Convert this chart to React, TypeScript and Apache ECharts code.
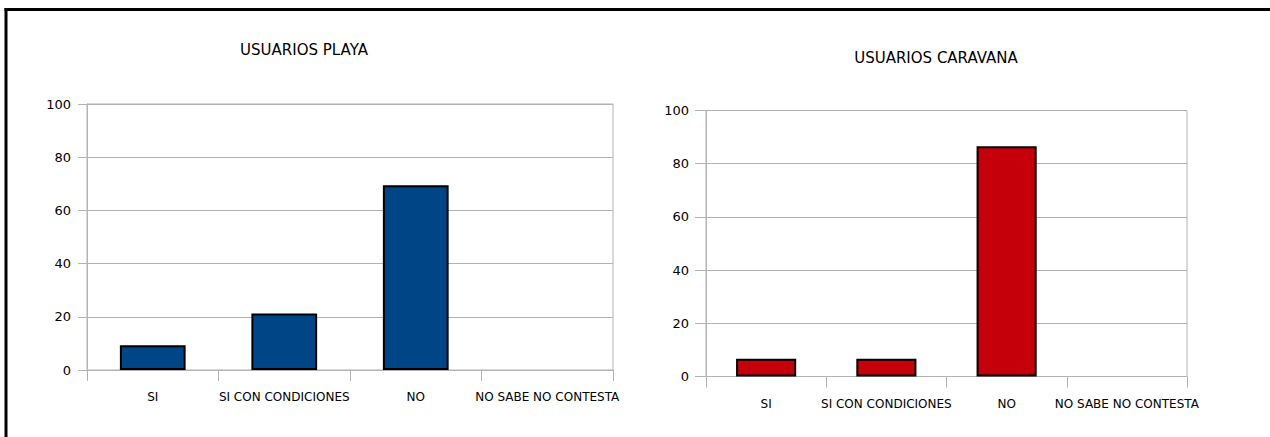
import React, { useEffect, useRef } from "react";
import * as echarts from "echarts";

const categories = ["SI", "SI CON CONDICIONES", "NO", "NO SABE NO CONTESTA"];
const playaValues = [9.3, 21.2, 69.5, 0];
const caravanaValues = [6.7, 6.7, 86.6, 0];
const playaTitle = "USUARIOS PLAYA";
const caravanaTitle = "USUARIOS CARAVANA";
const yMin = 0;
const yMax = 100;
const yInterval = 20;

const FONT = "DejaVu Sans";
const GRID_COLOR = "#b3b3b3";

function makeData(values: number[]) {
  return values.map((v) => (v === 0 ? { value: v, itemStyle: { borderWidth: 0 } } : v));
}

export default function App() {
  const ref = useRef<HTMLDivElement>(null);
  useEffect(() => {
    if (!ref.current) return;
    const chart = echarts.init(ref.current, null, { renderer: "svg" });
    const grids = [
      { left: 87, right: 1270 - 613, top: 104, bottom: 437 - 370 },
      { left: 706, right: 1270 - 1187, top: 110.5, bottom: 437 - 376.5 },
    ];
    const yTickLen = [9, 11];
    const yMargin = [16, 17];
    const xAxes = grids.map((_, i) => ({
      type: "category",
      gridIndex: i,
      data: categories,
      boundaryGap: true,
      axisLine: { show: true, lineStyle: { color: GRID_COLOR, width: 1 } },
      axisTick: { show: true, length: 11, interval: 0, lineStyle: { color: GRID_COLOR, width: 1 } },
      axisLabel: { interval: 0, margin: 21, color: "#000", fontFamily: FONT, fontSize: 12 },
      splitLine: { show: false },
    }));
    const yAxes = grids.map((_, i) => ({
      type: "value",
      gridIndex: i,
      min: yMin,
      max: yMax,
      interval: yInterval,
      axisLine: { show: true, lineStyle: { color: GRID_COLOR, width: 1 } },
      axisTick: { show: true, length: yTickLen[i], lineStyle: { color: GRID_COLOR, width: 1 } },
      axisLabel: { margin: yMargin[i], color: "#000", fontFamily: FONT, fontSize: 13, padding: [0, 0, 4, 0] },
      splitLine: { show: true, lineStyle: { color: GRID_COLOR, width: 1 } },
    }));
    chart.setOption({
      animation: false,
      backgroundColor: "#ffffff",
      grid: grids.map((g) => ({ ...g, show: true, borderColor: GRID_COLOR, borderWidth: 1, backgroundColor: "transparent" })),
      xAxis: xAxes,
      yAxis: yAxes,
      series: [
        {
          type: "bar",
          xAxisIndex: 0,
          yAxisIndex: 0,
          barWidth: "50%",
          data: makeData(playaValues),
          itemStyle: { color: "#004586", borderColor: "#000", borderWidth: 2 },
        },
        {
          type: "bar",
          xAxisIndex: 1,
          yAxisIndex: 1,
          barWidth: "50%",
          data: makeData(caravanaValues),
          itemStyle: { color: "#c5000b", borderColor: "#000", borderWidth: 2 },
        },
      ],
      graphic: [
        {
          type: "line",
          shape: { x1: 4.5, y1: 9.5, x2: 1270, y2: 9.5 },
          style: { stroke: "#000", lineWidth: 3 },
          silent: true,
        },
        {
          type: "line",
          shape: { x1: 6, y1: 8, x2: 6, y2: 437 },
          style: { stroke: "#000", lineWidth: 3 },
          silent: true,
        },
        {
          type: "text",
          x: 304,
          y: 50,
          style: { text: playaTitle, fill: "#000", font: `15px "${FONT}"`, textAlign: "center", textVerticalAlign: "middle" },
        },
        {
          type: "text",
          x: 936,
          y: 58,
          style: { text: caravanaTitle, fill: "#000", font: `15px "${FONT}"`, textAlign: "center", textVerticalAlign: "middle" },
        },
      ],
    });
    return () => chart.dispose();
  }, []);
  return (
    <div
      ref={ref}
      style={{ position: "fixed", left: 0, top: 0, width: 1270, height: 437, background: "#fff", overflow: "hidden" }}
    />
  );
}
